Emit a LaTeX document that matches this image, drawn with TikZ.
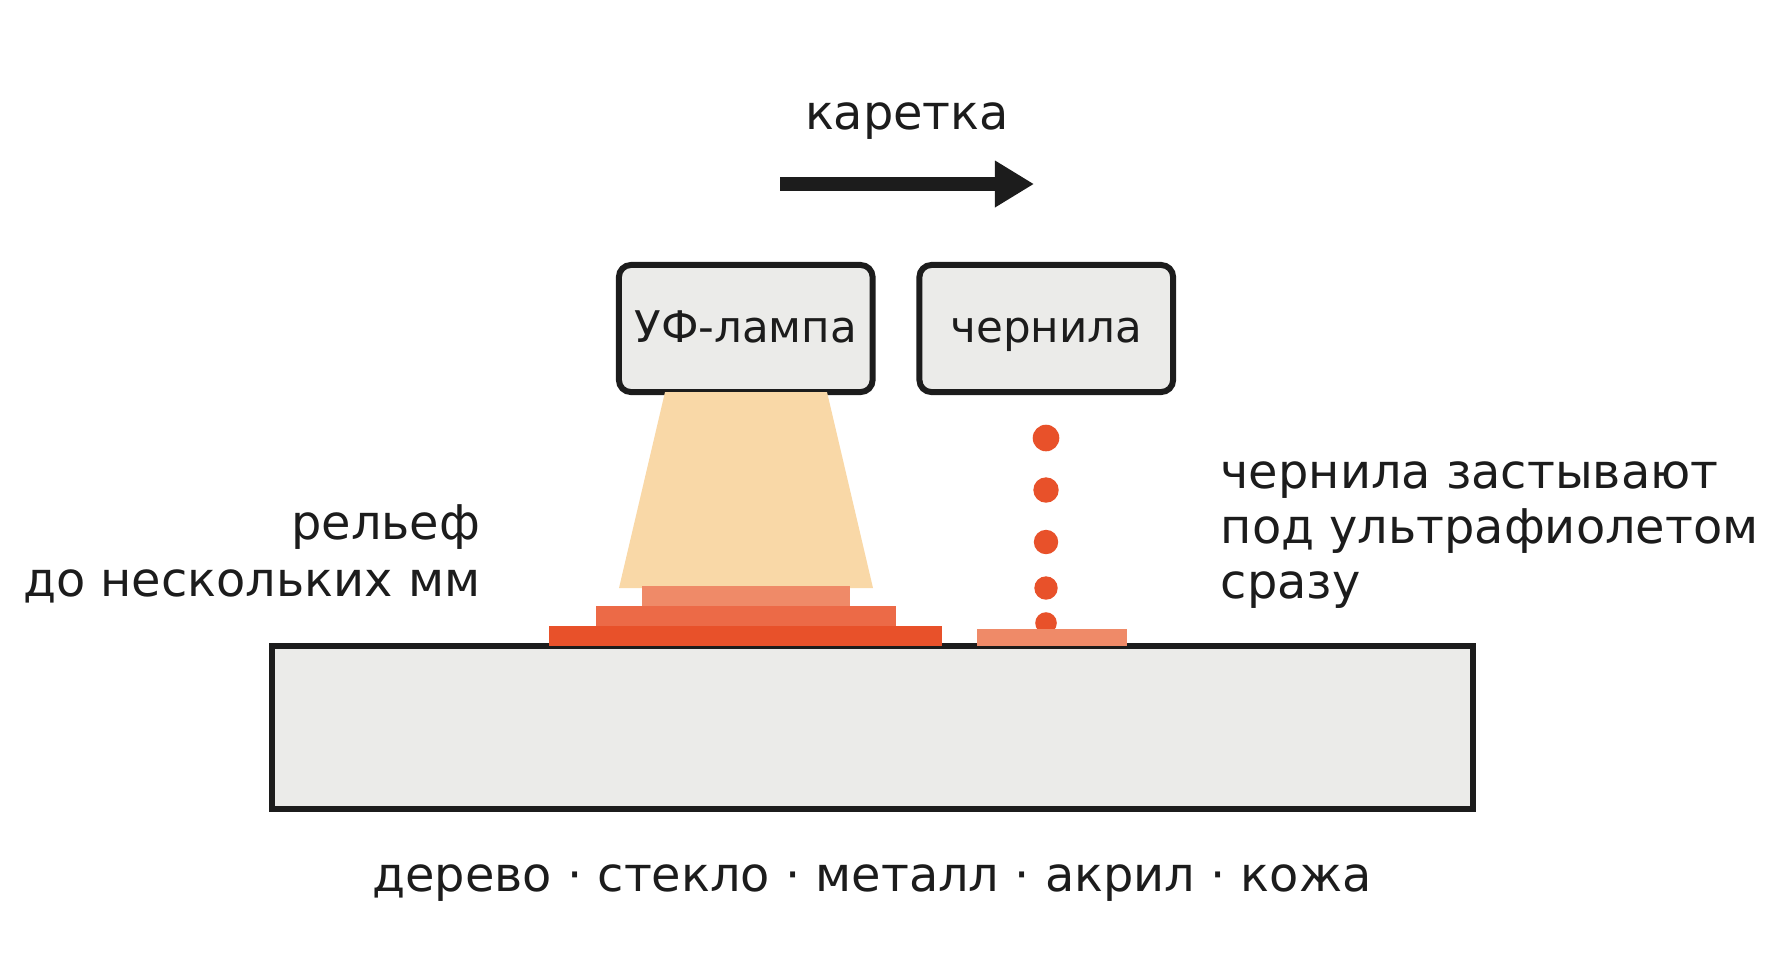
\documentclass[tikz,border=0pt]{standalone}
\usepackage{fontspec}
\setmainfont{DejaVu Sans}
\usetikzlibrary{arrows.meta}
\definecolor{ink}{HTML}{1C1C1C}
\definecolor{panel}{HTML}{EBEBE9}
\definecolor{uvlight}{HTML}{F9D8A7}
\definecolor{layerA}{HTML}{E8512A}
\definecolor{layerB}{HTML}{EC6A47}
\definecolor{layerC}{HTML}{EF8A68}

\begin{document}
\begin{tikzpicture}[x=0.01cm, y=-0.01cm,
    unit/.style={draw=ink, line width=1.7pt, fill=panel, rounded corners=3.4pt,
      minimum width=2.535cm, minimum height=1.27cm, inner sep=0pt, text=ink,
      text height=9.6pt, text depth=1.9pt, font=\fontsize{12.4}{15}\selectfont},
    caption/.style={text=ink, inner sep=0pt, font=\fontsize{13.6}{16.2}\selectfont}]
  \useasboundingbox (0,0) rectangle (1780,969);

  % substrate
  \draw[draw=ink, fill=panel, line width=1.7pt] (272,646) rectangle (1473,809);
  \node[caption, anchor=base] (materials) at (872,891)
    {дерево · стекло · металл · акрил · кожа};

  % carriage
  \node[unit] (lamp) at (745.75,328.5) {УФ-лампа};
  \node[unit] (head) at (1046.25,328.5) {чернила};
  \fill[uvlight] (665,392) -- (827,392) -- (873,588) -- (619,588) -- cycle;

  \coordinate (move from) at (780,184);
  \coordinate (move to) at (1034,184);
  \draw[ink, line width=3.98pt, -{Triangle[length=0.39cm, width=0.44cm]}]
    (move from) -- (move to);
  \node[caption, anchor=base] (carriage) at (907,129) {каретка};

  % relief under the lamp
  \fill[layerC] (642,586) rectangle (850,606);
  \fill[layerB] (596,606) rectangle (896,626);
  \fill[layerA] (549,626) rectangle (942,646);

  % drops
  \foreach \y/\r in {438/13.3, 490/12.7, 542/12.2, 588/11.7, 623/10.8}
    \fill[layerA] (1046,\y) circle[radius={\r*0.01cm}];
  \fill[layerC] (977,629) rectangle (1127,646);

  \node[caption, anchor=base east, align=right] (relief) at (481,596)
    {рельеф\\до нескольких мм};
  \node[caption, anchor=base west, align=left,
    font=\fontsize{13.6}{15.6}\selectfont] (cure) at (1220,598)
    {чернила застывают\\под ультрафиолетом\\сразу};
\end{tikzpicture}
\end{document}
